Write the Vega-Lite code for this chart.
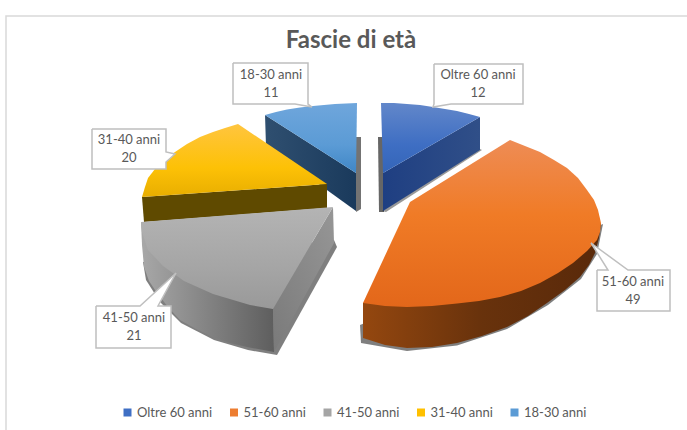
{"$schema":"https://vega.github.io/schema/vega-lite/v6.json","width":687,"height":430,"padding":0,"autosize":{"type":"none"},"background":"white","view":{"stroke":null},
"datasets":{
"frame":[{"n":1,"x":6,"y":430},{"n":2,"x":6,"y":16},{"n":3,"x":687,"y":16}],
"slices":[{"slice":"Oltre 60 anni","value":12,"x":478,"y":84},{"slice":"51-60 anni","value":49,"x":633,"y":291},{"slice":"41-50 anni","value":21,"x":134,"y":327},{"slice":"31-40 anni","value":20,"x":129,"y":149},{"slice":"18-30 anni","value":11,"x":271,"y":84}],
"callouts":[
{"id":"a","n":1,"x":434,"y":64},{"id":"a","n":2,"x":523,"y":64},{"id":"a","n":3,"x":523,"y":104},{"id":"a","n":4,"x":451,"y":104},{"id":"a","n":5,"x":433,"y":107},{"id":"a","n":6,"x":434,"y":104},{"id":"a","n":7,"x":434,"y":64},
{"id":"b","n":1,"x":597,"y":270},{"id":"b","n":2,"x":608,"y":270},{"id":"b","n":3,"x":591,"y":243},{"id":"b","n":4,"x":628,"y":270},{"id":"b","n":5,"x":670,"y":270},{"id":"b","n":6,"x":670,"y":311},{"id":"b","n":7,"x":597,"y":311},{"id":"b","n":8,"x":597,"y":270},
{"id":"c","n":1,"x":96,"y":306},{"id":"c","n":2,"x":140,"y":306},{"id":"c","n":3,"x":176,"y":273},{"id":"c","n":4,"x":158,"y":306},{"id":"c","n":5,"x":171,"y":306},{"id":"c","n":6,"x":171,"y":348},{"id":"c","n":7,"x":96,"y":348},{"id":"c","n":8,"x":96,"y":306},
{"id":"d","n":1,"x":92,"y":129},{"id":"d","n":2,"x":166,"y":129},{"id":"d","n":3,"x":166,"y":152},{"id":"d","n":4,"x":175,"y":154},{"id":"d","n":5,"x":166,"y":162},{"id":"d","n":6,"x":166,"y":169},{"id":"d","n":7,"x":92,"y":169},{"id":"d","n":8,"x":92,"y":129},
{"id":"e","n":1,"x":233,"y":63},{"id":"e","n":2,"x":308,"y":63},{"id":"e","n":3,"x":308,"y":104},{"id":"e","n":4,"x":312,"y":107},{"id":"e","n":5,"x":295,"y":104},{"id":"e","n":6,"x":233,"y":104},{"id":"e","n":7,"x":233,"y":63}
],
"faces":[
{"part":"sh1","n":1,"x":356,"y":137},{"part":"sh1","n":2,"x":361,"y":137},{"part":"sh1","n":3,"x":361,"y":209},{"part":"sh1","n":4,"x":356,"y":212},
{"part":"lbside","n":1,"x":265,"y":115},{"part":"lbside","n":2,"x":356,"y":173},{"part":"lbside","n":3,"x":356,"y":211},{"part":"lbside","n":4,"x":266,"y":146},
{"part":"lbtop","n":1,"x":356,"y":173},{"part":"lbtop","n":2,"x":357,"y":103},{"part":"lbtop","n":3,"x":335,"y":104},{"part":"lbtop","n":4,"x":313,"y":106},{"part":"lbtop","n":5,"x":300,"y":107.5},{"part":"lbtop","n":6,"x":287,"y":109.5},{"part":"lbtop","n":7,"x":276,"y":112},{"part":"lbtop","n":8,"x":265,"y":115},
{"part":"sh2","n":1,"x":378,"y":137},{"part":"sh2","n":2,"x":383,"y":137},{"part":"sh2","n":3,"x":384,"y":212},{"part":"sh2","n":4,"x":379,"y":212},
{"part":"sh2b","n":1,"x":478,"y":148},{"part":"sh2b","n":2,"x":482,"y":150},{"part":"sh2b","n":3,"x":386,"y":212},{"part":"sh2b","n":4,"x":382,"y":211},
{"part":"bside","n":1,"x":383,"y":173},{"part":"bside","n":2,"x":480,"y":117},{"part":"bside","n":3,"x":480,"y":150},{"part":"bside","n":4,"x":383,"y":211},
{"part":"btop","n":1,"x":383,"y":173},{"part":"btop","n":2,"x":381,"y":103},{"part":"btop","n":3,"x":394,"y":103},{"part":"btop","n":4,"x":407,"y":104},{"part":"btop","n":5,"x":420,"y":105},{"part":"btop","n":6,"x":433,"y":107},{"part":"btop","n":7,"x":445,"y":109},{"part":"btop","n":8,"x":457,"y":111},{"part":"btop","n":9,"x":469,"y":114},{"part":"btop","n":10,"x":480,"y":117},
{"part":"yside","n":1,"x":142,"y":197},{"part":"yside","n":2,"x":327,"y":184},{"part":"yside","n":3,"x":327,"y":208},{"part":"yside","n":4,"x":144,"y":222},
{"part":"ytop","n":1,"x":327,"y":184},{"part":"ytop","n":2,"x":238,"y":124},{"part":"ytop","n":3,"x":225,"y":128},{"part":"ytop","n":4,"x":213,"y":132},{"part":"ytop","n":5,"x":200,"y":137},{"part":"ytop","n":6,"x":187,"y":144},{"part":"ytop","n":7,"x":175,"y":152},{"part":"ytop","n":8,"x":163,"y":161},{"part":"ytop","n":9,"x":155,"y":169},{"part":"ytop","n":10,"x":148,"y":178},{"part":"ytop","n":11,"x":145,"y":187},{"part":"ytop","n":12,"x":142,"y":197},
{"part":"sh3","n":1,"x":143,"y":262},{"part":"sh3","n":2,"x":146,"y":280},{"part":"sh3","n":3,"x":160,"y":302},{"part":"sh3","n":4,"x":181,"y":323},{"part":"sh3","n":5,"x":214,"y":340},{"part":"sh3","n":6,"x":248,"y":350},{"part":"sh3","n":7,"x":277,"y":355},{"part":"sh3","n":8,"x":337,"y":247},{"part":"sh3","n":9,"x":334,"y":240},
{"part":"goside","n":1,"x":141,"y":222},{"part":"goside","n":2,"x":142,"y":245},{"part":"goside","n":3,"x":144,"y":267},{"part":"goside","n":4,"x":149,"y":281},{"part":"goside","n":5,"x":157,"y":293},{"part":"goside","n":6,"x":168,"y":307},{"part":"goside","n":7,"x":180,"y":320},{"part":"goside","n":8,"x":196,"y":329},{"part":"goside","n":9,"x":213,"y":337},{"part":"goside","n":10,"x":230,"y":343},{"part":"goside","n":11,"x":247,"y":347},{"part":"goside","n":12,"x":274,"y":352},{"part":"goside","n":13,"x":273,"y":309},
{"part":"gcside","n":1,"x":333,"y":207},{"part":"gcside","n":2,"x":334,"y":243},{"part":"gcside","n":3,"x":274,"y":352},{"part":"gcside","n":4,"x":273,"y":309},
{"part":"gtop","n":1,"x":333,"y":207},{"part":"gtop","n":2,"x":141,"y":222},{"part":"gtop","n":3,"x":142,"y":232},{"part":"gtop","n":4,"x":148,"y":250},{"part":"gtop","n":5,"x":163,"y":266},{"part":"gtop","n":6,"x":184,"y":281},{"part":"gtop","n":7,"x":213,"y":294},{"part":"gtop","n":8,"x":250,"y":305},{"part":"gtop","n":9,"x":273,"y":309},
{"part":"sh4","n":1,"x":360,"y":325},{"part":"sh4","n":2,"x":361,"y":343},{"part":"sh4","n":3,"x":407,"y":351},{"part":"sh4","n":4,"x":457,"y":345.5},{"part":"sh4","n":5,"x":507,"y":329},{"part":"sh4","n":6,"x":548,"y":305},{"part":"sh4","n":7,"x":581,"y":279},{"part":"sh4","n":8,"x":597,"y":254},{"part":"sh4","n":9,"x":603,"y":224},
{"part":"oside","n":1,"x":363,"y":303},{"part":"oside","n":2,"x":363,"y":338},{"part":"oside","n":3,"x":385,"y":345},{"part":"oside","n":4,"x":407,"y":348},{"part":"oside","n":5,"x":432,"y":347},{"part":"oside","n":6,"x":457,"y":343},{"part":"oside","n":7,"x":482,"y":336},{"part":"oside","n":8,"x":507,"y":327},{"part":"oside","n":9,"x":528,"y":316},{"part":"oside","n":10,"x":547,"y":303},{"part":"oside","n":11,"x":565,"y":290},{"part":"oside","n":12,"x":580,"y":277},{"part":"oside","n":13,"x":589,"y":265},{"part":"oside","n":14,"x":595,"y":253},{"part":"oside","n":15,"x":599,"y":238},{"part":"oside","n":16,"x":601,"y":223},
{"part":"otop","n":1,"x":410,"y":202},{"part":"otop","n":2,"x":510,"y":140},{"part":"otop","n":3,"x":525,"y":146},{"part":"otop","n":4,"x":540,"y":152},{"part":"otop","n":5,"x":554,"y":160},{"part":"otop","n":6,"x":567,"y":168},{"part":"otop","n":7,"x":578,"y":178},{"part":"otop","n":8,"x":587,"y":190},{"part":"otop","n":9,"x":594,"y":200},{"part":"otop","n":10,"x":598,"y":210},{"part":"otop","n":11,"x":601,"y":223},{"part":"otop","n":12,"x":600,"y":232},{"part":"otop","n":13,"x":597,"y":240},{"part":"otop","n":14,"x":587,"y":251},{"part":"otop","n":15,"x":573,"y":263},{"part":"otop","n":16,"x":558,"y":273},{"part":"otop","n":17,"x":540,"y":283},{"part":"otop","n":18,"x":521,"y":291},{"part":"otop","n":19,"x":500,"y":297},{"part":"otop","n":20,"x":479,"y":301},{"part":"otop","n":21,"x":457,"y":303.5},{"part":"otop","n":22,"x":432,"y":306},{"part":"otop","n":23,"x":407,"y":307},{"part":"otop","n":24,"x":385,"y":306},{"part":"otop","n":25,"x":363,"y":303}
]},
"layer":[
{"data":{"name":"frame"},"mark":{"type":"line","stroke":"#d9d9d9","strokeWidth":1.5},"encoding":{"x":{"field":"x","type":"quantitative","scale":{"domain":[0,687],"nice":false,"zero":false},"axis":null},"y":{"field":"y","type":"quantitative","scale":{"domain":[430,0],"nice":false,"zero":false},"axis":null},"order":{"field":"n"}}},
{"data":{"name":"faces"},"encoding":{"x":{"field":"x","type":"quantitative","axis":null},"y":{"field":"y","type":"quantitative","axis":null},"order":{"field":"n"}},"layer":[
{"transform":[{"filter":"datum.part==='sh1'"}],"mark":{"type":"line","strokeWidth":0,"fill":"#000000","fillOpacity":0.55}},
{"transform":[{"filter":"datum.part==='lbside'"}],"mark":{"type":"line","strokeWidth":0,"fill":{"gradient":"linear","x1":0,"y1":0,"x2":1,"y2":0,"stops":[{"offset":0,"color":"#2f4f70"},{"offset":1,"color":"#1a3a5c"}]}}},
{"transform":[{"filter":"datum.part==='lbtop'"}],"mark":{"type":"line","strokeWidth":0,"fill":{"gradient":"linear","x1":0,"y1":0,"x2":0,"y2":1,"stops":[{"offset":0,"color":"#6fa6dc"},{"offset":0.6,"color":"#5b9bd5"},{"offset":1,"color":"#3f86c6"}]}}},
{"transform":[{"filter":"datum.part==='sh2'"}],"mark":{"type":"line","strokeWidth":0,"fill":"#000000","fillOpacity":0.6}},
{"transform":[{"filter":"datum.part==='sh2b'"}],"mark":{"type":"line","strokeWidth":0,"fill":"#000000","fillOpacity":0.4}},
{"transform":[{"filter":"datum.part==='bside'"}],"mark":{"type":"line","strokeWidth":0,"fill":{"gradient":"linear","x1":0,"y1":0,"x2":1,"y2":0,"stops":[{"offset":0,"color":"#1f3f82"},{"offset":1,"color":"#304f88"}]}}},
{"transform":[{"filter":"datum.part==='btop'"}],"mark":{"type":"line","strokeWidth":0,"fill":{"gradient":"linear","x1":0,"y1":0,"x2":0,"y2":1,"stops":[{"offset":0,"color":"#6287ca"},{"offset":0.6,"color":"#3e6ec3"},{"offset":1,"color":"#3465b8"}]}}},
{"transform":[{"filter":"datum.part==='yside'"}],"mark":{"type":"line","strokeWidth":0,"fill":"#5f4a00"}},
{"transform":[{"filter":"datum.part==='ytop'"}],"mark":{"type":"line","strokeWidth":0,"fill":{"gradient":"linear","x1":0,"y1":0,"x2":0,"y2":1,"stops":[{"offset":0,"color":"#ffc53f"},{"offset":0.6,"color":"#fdc106"},{"offset":1,"color":"#e8ae00"}]}}},
{"transform":[{"filter":"datum.part==='sh3'"}],"mark":{"type":"line","strokeWidth":0,"fill":"#000000","fillOpacity":0.5}},
{"transform":[{"filter":"datum.part==='goside'"}],"mark":{"type":"line","strokeWidth":0,"fill":{"gradient":"linear","x1":0,"y1":0,"x2":1,"y2":0,"stops":[{"offset":0,"color":"#a8a8a8"},{"offset":1,"color":"#5e5e5e"}]}}},
{"transform":[{"filter":"datum.part==='gcside'"}],"mark":{"type":"line","strokeWidth":0,"fill":{"gradient":"linear","x1":0,"y1":1,"x2":1,"y2":0,"stops":[{"offset":0,"color":"#7a7a7a"},{"offset":1,"color":"#969696"}]}}},
{"transform":[{"filter":"datum.part==='gtop'"}],"mark":{"type":"line","strokeWidth":0,"fill":{"gradient":"linear","x1":0,"y1":0,"x2":0,"y2":1,"stops":[{"offset":0,"color":"#b4b4b4"},{"offset":0.6,"color":"#a5a5a5"},{"offset":1,"color":"#999999"}]}}},
{"transform":[{"filter":"datum.part==='sh4'"}],"mark":{"type":"line","strokeWidth":0,"fill":"#000000","fillOpacity":0.5}},
{"transform":[{"filter":"datum.part==='oside'"}],"mark":{"type":"line","strokeWidth":0,"fill":{"gradient":"linear","x1":0,"y1":0,"x2":1,"y2":0,"stops":[{"offset":0,"color":"#94470f"},{"offset":0.5,"color":"#68320c"},{"offset":1,"color":"#59290a"}]}}},
{"transform":[{"filter":"datum.part==='otop'"}],"mark":{"type":"line","strokeWidth":0,"fill":{"gradient":"linear","x1":0,"y1":0,"x2":0,"y2":1,"stops":[{"offset":0,"color":"#ee8c55"},{"offset":0.45,"color":"#f07b26"},{"offset":1,"color":"#e3671a"}]}}}
]},
{"data":{"name":"slices"},"mark":{"type":"point","shape":"square","filled":true,"opacity":1,"size":1},"encoding":{"x":{"field":"x","type":"quantitative","axis":null},"y":{"field":"y","type":"quantitative","axis":null},
"color":{"field":"slice","type":"nominal","sort":null,"scale":{"domain":["Oltre 60 anni","51-60 anni","41-50 anni","31-40 anni","18-30 anni"],"range":["#3f6fc4","#ed7d31","#a5a5a5","#ffc000","#5b9bd5"]},
"legend":{"orient":"none","legendX":121,"legendY":406,"direction":"horizontal","columns":5,"gridAlign":"none","title":null,"symbolType":"square","symbolSize":64,"symbolStrokeWidth":0,"labelFont":"Lato","labelFontSize":13,"labelColor":"#595959","labelOffset":3,"columnPadding":14.5,"labelLimit":200,"padding":0}}}},
{"data":{"name":"callouts"},"mark":{"type":"line","fill":"white","stroke":"#bfbfbf","strokeWidth":1.5},"encoding":{"x":{"field":"x","type":"quantitative","axis":null},"y":{"field":"y","type":"quantitative","axis":null},"order":{"field":"n"},"detail":{"field":"id"}}},
{"data":{"name":"slices"},"mark":{"type":"text","font":"Lato","fontSize":13,"color":"#595959","dy":-9},"encoding":{"x":{"field":"x","type":"quantitative","axis":null},"y":{"field":"y","type":"quantitative","axis":null},"text":{"field":"slice"}}},
{"data":{"name":"slices"},"mark":{"type":"text","font":"Lato","fontSize":13,"color":"#595959","dy":9},"encoding":{"x":{"field":"x","type":"quantitative","axis":null},"y":{"field":"y","type":"quantitative","axis":null},"text":{"field":"value","type":"quantitative"}}},
{"data":{"values":[{"title":"Fascie di età","x":351,"y":41}]},"mark":{"type":"text","font":"Lato","fontSize":24,"fontWeight":"bold","color":"#595959"},"encoding":{"x":{"field":"x","type":"quantitative","axis":null},"y":{"field":"y","type":"quantitative","axis":null},"text":{"field":"title"}}}
]}
